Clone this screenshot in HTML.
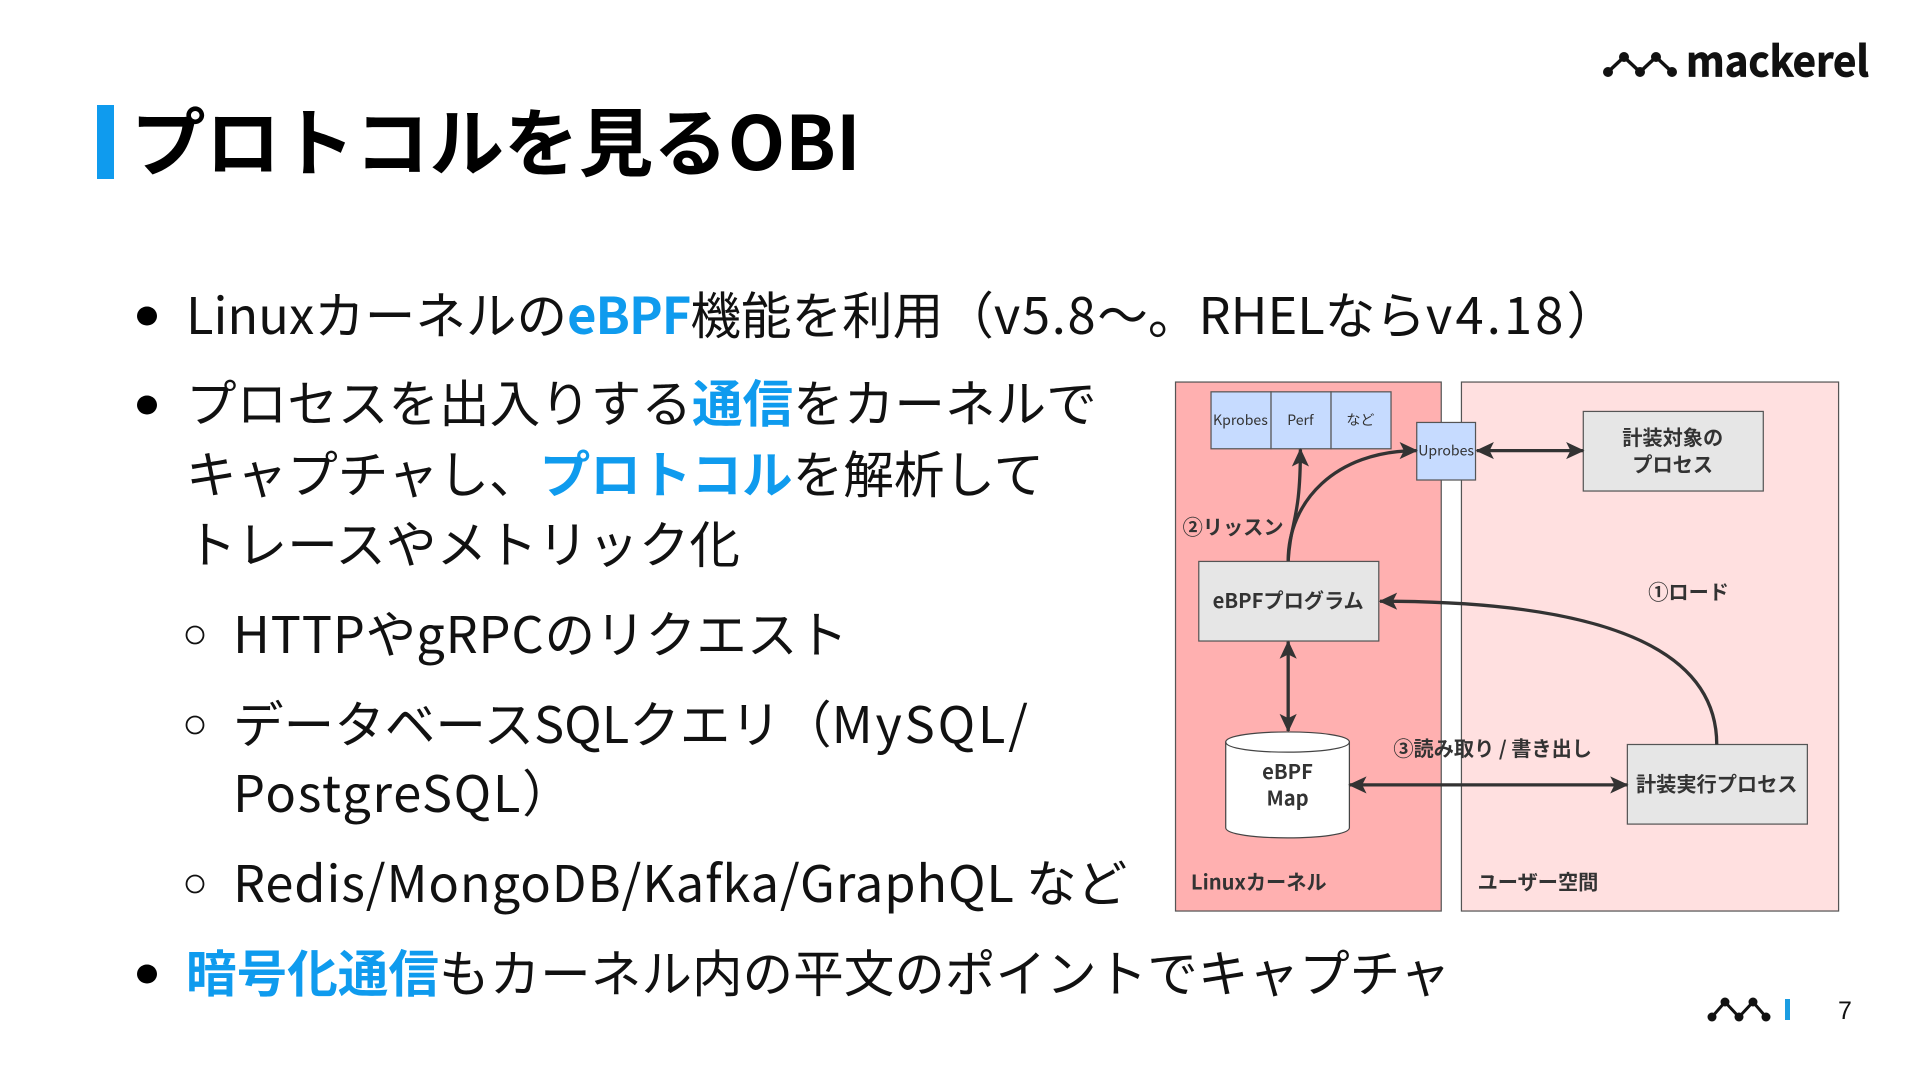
<!DOCTYPE html>
<html lang="ja"><head><meta charset="utf-8">
<style>
html,body{margin:0;padding:0;background:#fff;width:1920px;height:1080px;overflow:hidden}
body{position:relative;font-family:"Noto Sans CJK JP","Liberation Sans",sans-serif;color:#111}
.l{position:absolute;white-space:nowrap;font-size:50.6px;line-height:72px;height:72px;font-weight:400}
.l b{color:#0f9bee;font-weight:700}
.t{position:absolute;left:131px;top:88px;font-size:74.6px;line-height:100px;font-weight:700;color:#000;white-space:nowrap}
svg{position:absolute;left:0;top:0}
svg text{font-family:"Noto Sans CJK JP","Liberation Sans",sans-serif}
</style></head><body>
<svg width="1920" height="1080" viewBox="0 0 1920 1080">
<defs>
<marker id="a" markerUnits="userSpaceOnUse" markerWidth="17" markerHeight="17" refX="15" refY="8.500" orient="auto-start-reverse"><path d="M1 1.500L16 8.500L1 15.500L4.500 8.500Z" fill="#333"/></marker>
</defs>
<rect x="97" y="105" width="17" height="74" fill="#0f9bee"/>
<ellipse cx="147" cy="316" rx="10" ry="9.500" fill="#000"/>
<ellipse cx="147" cy="405" rx="10" ry="9.500" fill="#000"/>
<ellipse cx="147" cy="974" rx="10" ry="9.500" fill="#000"/>
<circle cx="195" cy="635" r="8.500" fill="none" stroke="#111" stroke-width="1.800"/>
<circle cx="195" cy="725" r="8.500" fill="none" stroke="#111" stroke-width="1.800"/>
<circle cx="195" cy="884" r="8.500" fill="none" stroke="#111" stroke-width="1.800"/>
<g fill="none" stroke="#111" stroke-width="3.500"><path d="M1608 72L1624 57L1640 72L1656 57L1672 72"/></g>
<g fill="#111"><circle cx="1608" cy="72" r="5"/><circle cx="1624" cy="57" r="5"/><circle cx="1640" cy="72" r="5"/><circle cx="1656" cy="57" r="5"/><circle cx="1672" cy="72" r="5"/></g>
<text x="1686" y="76.500" font-size="42" font-weight="700" fill="#111" stroke="#111" stroke-width="0.800" textLength="183" lengthAdjust="spacingAndGlyphs">mackerel</text>
<g fill="none" stroke="#111" stroke-width="3"><path d="M1712 1017L1725 1002L1739 1017L1753 1002L1766 1017"/></g>
<g fill="#111"><circle cx="1712" cy="1017" r="4.500"/><circle cx="1725" cy="1002" r="4.500"/><circle cx="1739" cy="1017" r="4.500"/><circle cx="1753" cy="1002" r="4.500"/><circle cx="1766" cy="1017" r="4.500"/></g>
<rect x="1785" y="999" width="5" height="21" fill="#1b9de2"/>
<text x="1838" y="1019" font-size="25" style="font-family:'Liberation Sans',sans-serif" fill="#111">7</text>

<g transform="scale(1.2245)">
<rect x="960" y="312" width="217" height="432" fill="#ffb0b0" stroke="#555" stroke-width="1"/>
<rect x="1193.500" y="312" width="308" height="432" fill="#ffe0e0" stroke="#555" stroke-width="1"/>
<g fill="#c6dbff" stroke="#555" stroke-width="1">
<rect x="989" y="320" width="49" height="46.500"/><rect x="1038" y="320" width="49" height="46.500"/><rect x="1087" y="320" width="49" height="46.500"/>
<rect x="1157" y="345" width="48" height="47"/>
</g>
<g fill="#e6e6e6" stroke="#555" stroke-width="1">
<rect x="1293" y="336" width="147" height="65"/>
<rect x="979" y="458.500" width="147" height="65"/>
<rect x="1329" y="608" width="147" height="65"/>
</g>
<path d="M1001 606C1001 595 1102 595 1102 606V676C1102 687 1001 687 1001 676Z" fill="#fff" stroke="#444" stroke-width="1"/>
<path d="M1001 606C1001 617 1102 617 1102 606" fill="none" stroke="#444" stroke-width="1"/>
<g fill="none" stroke="#333" stroke-width="2.700">
<path d="M1402 608C1402 530 1310 491 1127 491" marker-end="url(#a)"/>
<path d="M1052 458C1054 425 1062 425 1062 367" marker-end="url(#a)"/>
<path d="M1052 458C1052 410 1090 368 1157 368" marker-end="url(#a)"/>
<path d="M1052 524V597" marker-start="url(#a)" marker-end="url(#a)"/>
<path d="M1102 641H1329" marker-start="url(#a)" marker-end="url(#a)"/>
<path d="M1206 368H1293" marker-start="url(#a)" marker-end="url(#a)"/>
</g>
<g font-size="11.500" fill="#333" text-anchor="middle">
<text x="1013" y="347">Kprobes</text><text x="1062" y="347">Perf</text><text x="1111" y="347">など</text><text x="1181" y="372">Uprobes</text>
</g>
<g font-size="16.500" font-weight="700" fill="#333" text-anchor="middle">
<text x="1366" y="363.500">計装対象の</text><text x="1366" y="385.500">プロセス</text>
<text x="1052" y="496.500">eBPFプログラム</text>
<text x="1051.500" y="636">eBPF</text><text x="1051.500" y="658">Map</text>
<text x="1402" y="646.500">計装実行プロセス</text>
<text x="1007" y="436.500">②リッスン</text>
<text x="1379" y="489.500">①ロード</text>
<text x="1219" y="617.500">③読み取り / 書き出し</text>
<text x="1028" y="726.500">Linuxカーネル</text>
<text x="1256" y="726.500">ユーザー空間</text>
</g>
</g>
</svg>
<div class="t">プロトコルを見るOBI</div>
<div class="l" style="left:186px;top:276px">Linuxカーネルの<b style="letter-spacing:-1px">eBPF</b>機能を利用（<span style="letter-spacing:1.700px">v5.8</span>～。RHELなら<span style="letter-spacing:3.200px">v4.18</span>）</div>
<div class="l" style="left:186px;top:364px">プロセスを出入りする<b>通信</b>をカーネルで</div>
<div class="l" style="left:186px;top:435px">キャプチャし、<b>プロトコル</b>を解析して</div>
<div class="l" style="left:186px;top:505px">トレースやメトリック化</div>
<div class="l" style="left:233px;top:595px"><span style="letter-spacing:.8px">HTTP</span>や<span style="letter-spacing:.8px">gRPC</span>のリクエスト</div>
<div class="l" style="left:233px;top:685px">データベースSQLクエリ（<span style="letter-spacing:2.800px">MySQL/</span></div>
<div class="l" style="left:233px;top:754px"><span style="letter-spacing:1.700px">PostgreSQL</span>）</div>
<div class="l" style="left:233px;top:844px"><span style="letter-spacing:.85px">Redis/MongoDB/Kafka/GraphQL</span> など</div>
<div class="l" style="left:186px;top:934px"><b>暗号化通信</b>もカーネル内の平文のポイントでキャプチャ</div>
</body></html>
